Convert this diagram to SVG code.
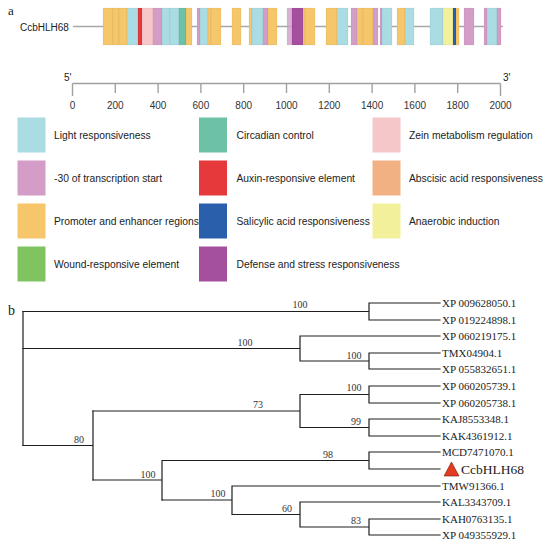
<svg xmlns="http://www.w3.org/2000/svg" width="550" height="549" viewBox="0 0 550 549">
<style>
.lb{fill:#a9dce3}.pk{fill:#d49dc8}.or{fill:#f6c66b}.gr{fill:#80c462}.tl{fill:#6cc1a7}.rd{fill:#e5393b}.bl{fill:#2a5fab}.pu{fill:#a54f9f}.zn{fill:#f6c7c9}.ab{fill:#f2b183}.yl{fill:#f2f09b}
.seg rect{stroke:#000;stroke-opacity:0.08;stroke-width:0.6}
.sans{font-family:"Liberation Sans",Arial,sans-serif;fill:#222}
.leg{font-family:"Liberation Sans",Arial,sans-serif;font-size:10.3px;fill:#222}
.ser{font-family:"Liberation Serif","Times New Roman",serif;fill:#222}
.bs{font-family:"Liberation Serif","Times New Roman",serif;font-size:10px;fill:#333;text-anchor:middle}
.leaf{font-family:"Liberation Serif","Times New Roman",serif;font-size:11px;fill:#222}
.br{stroke:#1e1e1e;stroke-width:1.2;fill:none;stroke-linecap:square}
.tick{stroke:#a0a0a0;stroke-width:1.4}
.tl10{font-family:"Liberation Sans",Arial,sans-serif;font-size:10px;fill:#333;text-anchor:middle}
</style>

<!-- Panel a -->
<text class="ser" x="8" y="15" font-size="13">a</text>
<g id="gene-CcbHLH68">
  <text class="sans" x="20" y="31" font-size="10">CcbHLH68</text>
  <line x1="73" y1="26.5" x2="503" y2="26.5" stroke="#a8a8a8" stroke-width="1.3"/>
  <g class="seg">
    <rect class="or" x="103" y="8" width="10" height="37"/>
    <rect class="or" x="113" y="8" width="6" height="37"/>
    <rect class="or" x="119" y="8" width="8" height="37"/>
    <rect class="lb" x="127" y="8" width="11" height="37"/>
    <rect class="rd" x="138" y="8" width="4" height="37"/>
    <rect class="zn" x="142" y="8" width="11" height="37"/>
    <rect class="pk" x="153" y="8" width="9" height="37"/>
    <rect class="lb" x="162" y="8" width="8" height="37"/>
    <rect class="lb" x="170" y="8" width="9" height="37"/>
    <rect class="tl" x="179" y="8" width="7" height="37"/>
    <rect class="or" x="186" y="8" width="6" height="37"/>
    <rect class="pk" x="197" y="8" width="3" height="37"/>
    <rect class="lb" x="200" y="8" width="8" height="37"/>
    <rect class="or" x="208" y="8" width="3" height="37"/>
    <rect class="or" x="211" y="8" width="10" height="37"/>
    <rect class="or" x="232" y="8" width="9" height="37"/>
    <rect class="or" x="249" y="8" width="3" height="37"/>
    <rect class="lb" x="252" y="8" width="11" height="37"/>
    <rect class="pk" x="263" y="8" width="5" height="37"/>
    <rect class="or" x="268" y="8" width="9" height="37"/>
    <rect class="pk" x="287" y="8" width="5" height="37" opacity="0.8"/>
    <rect class="pu" x="292" y="8" width="11" height="37"/>
    <rect class="or" x="303" y="8" width="2" height="37"/>
    <rect class="or" x="305" y="8" width="10" height="37"/>
    <rect class="or" x="326" y="8" width="11" height="37"/>
    <rect class="lb" x="337" y="8" width="11" height="37"/>
    <rect class="pk" x="351" y="8" width="6" height="37"/>
    <rect class="or" x="357" y="8" width="6" height="37"/>
    <rect class="or" x="363" y="8" width="10" height="37"/>
    <rect class="pk" x="373" y="8" width="5" height="37"/>
    <rect class="pk" x="380" y="8" width="2" height="37"/>
    <rect class="lb" x="382" y="8" width="10" height="37"/>
    <rect class="or" x="397" y="8" width="8" height="37"/>
    <rect class="lb" x="405" y="8" width="9" height="37"/>
    <rect class="lb" x="430" y="8" width="13" height="37"/>
    <rect class="yl" x="443" y="8" width="10" height="37"/>
    <rect class="bl" x="453" y="8" width="3" height="37"/>
    <rect class="or" x="456" y="8" width="3" height="37"/>
    <rect class="pk" x="464" y="8" width="10" height="37"/>
    <rect class="pk" x="484" y="8" width="3" height="37"/>
    <rect class="lb" x="487" y="8" width="10" height="37"/>
    <rect class="pk" x="497" y="8" width="4" height="37"/>
  </g>
</g>

<g id="scale-axis">
  <text class="sans" x="64" y="81" font-size="10">5'</text>
  <text class="sans" x="503" y="81" font-size="10">3'</text>
  <line x1="72.5" y1="83.5" x2="500.5" y2="83.5" stroke="#a0a0a0" stroke-width="1.5"/>
  <line class="tick" x1="72.5" y1="83.5" x2="72.5" y2="96"/>
  <line class="tick" x1="115.3" y1="83.5" x2="115.3" y2="93"/>
  <line class="tick" x1="158.1" y1="83.5" x2="158.1" y2="93"/>
  <line class="tick" x1="200.9" y1="83.5" x2="200.9" y2="93"/>
  <line class="tick" x1="243.7" y1="83.5" x2="243.7" y2="93"/>
  <line class="tick" x1="286.5" y1="83.5" x2="286.5" y2="93"/>
  <line class="tick" x1="329.3" y1="83.5" x2="329.3" y2="93"/>
  <line class="tick" x1="372.1" y1="83.5" x2="372.1" y2="93"/>
  <line class="tick" x1="414.9" y1="83.5" x2="414.9" y2="93"/>
  <line class="tick" x1="457.7" y1="83.5" x2="457.7" y2="93"/>
  <line class="tick" x1="500.5" y1="83.5" x2="500.5" y2="96"/>
  <text class="tl10" x="72.5" y="109">0</text>
  <text class="tl10" x="115.3" y="109">200</text>
  <text class="tl10" x="158.1" y="109">400</text>
  <text class="tl10" x="200.9" y="109">600</text>
  <text class="tl10" x="243.7" y="109">800</text>
  <text class="tl10" x="286.5" y="109">1000</text>
  <text class="tl10" x="329.3" y="109">1200</text>
  <text class="tl10" x="372.1" y="109">1400</text>
  <text class="tl10" x="414.9" y="109">1600</text>
  <text class="tl10" x="457.7" y="109">1800</text>
  <text class="tl10" x="500.5" y="109">2000</text>
</g>

<g id="legend">
  <g id="leg-light"><rect class="lb" x="17.5" y="117.5" width="28" height="35"/><text class="leg" x="54" y="138.5">Light responsiveness</text></g>
  <g id="leg-circadian"><rect class="tl" x="199" y="117.5" width="28" height="35"/><text class="leg" x="236.5" y="138.5">Circadian control</text></g>
  <g id="leg-zein"><rect class="zn" x="372.5" y="117.5" width="28" height="35"/><text class="leg" x="409" y="138.5">Zein metabolism regulation</text></g>
  <g id="leg-30"><rect class="pk" x="17.5" y="160.5" width="28" height="35"/><text class="leg" x="54" y="181.5">-30 of transcription start</text></g>
  <g id="leg-auxin"><rect class="rd" x="199" y="160.5" width="28" height="35"/><text class="leg" x="236.5" y="181.5">Auxin-responsive element</text></g>
  <g id="leg-abscisic"><rect class="ab" x="372.5" y="160.5" width="28" height="35"/><text class="leg" x="409" y="181.5">Abscisic acid responsiveness</text></g>
  <g id="leg-promoter"><rect class="or" x="17.5" y="203.5" width="28" height="35"/><text class="leg" x="54" y="224.5">Promoter and enhancer regions</text></g>
  <g id="leg-salicylic"><rect class="bl" x="199" y="203.5" width="28" height="35"/><text class="leg" x="236.5" y="224.5">Salicylic acid responsiveness</text></g>
  <g id="leg-anaerobic"><rect class="yl" x="372.5" y="203.5" width="28" height="35"/><text class="leg" x="409" y="224.5">Anaerobic induction</text></g>
  <g id="leg-wound"><rect class="gr" x="17.5" y="246.5" width="28" height="35"/><text class="leg" x="54" y="267.5">Wound-responsive element</text></g>
  <g id="leg-defense"><rect class="pu" x="199" y="246.5" width="28" height="35"/><text class="leg" x="236.5" y="267.5">Defense and stress responsiveness</text></g>
</g>

<!-- Panel b -->
<text class="ser" x="8" y="315" font-size="14">b</text>
<g id="connectors">
  <path class="br" d="M23 311.5V445.5"/>
  <path class="br" d="M23 311.5H369M369 303V320M369 303H440M369 320H440"/>
  <path class="br" d="M23 348.5H300M300 336V361M300 336H440M300 361H369M369 353V369M369 353H440M369 369H440"/>
  <path class="br" d="M23 445.5H93M93 411V480"/>
  <path class="br" d="M93 411H300M300 394.5V427.5M300 394.5H369M369 386V403M369 386H440M369 403H440M300 427.5H369M369 419V436M369 419H440M369 436H440"/>
  <path class="br" d="M93 480H162M162 460.5V500M162 460.5H369M369 452V469M369 452H440M369 469H440"/>
  <path class="br" d="M162 500H232M232 486V514.5M232 486H440M232 514.5H300M300 502V527M300 502H440M300 527H369M369 519V535M369 519H440M369 535H440"/>
</g>
<g id="bootstrap">
  <text class="bs" x="300" y="308">100</text>
  <text class="bs" x="245" y="346">100</text>
  <text class="bs" x="354" y="359">100</text>
  <text class="bs" x="354" y="391">100</text>
  <text class="bs" x="258" y="408">73</text>
  <text class="bs" x="356" y="425">99</text>
  <text class="bs" x="79" y="443">80</text>
  <text class="bs" x="328" y="458">98</text>
  <text class="bs" x="148" y="478">100</text>
  <text class="bs" x="218" y="497">100</text>
  <text class="bs" x="287" y="512">60</text>
  <text class="bs" x="356" y="524">83</text>
</g>
<g id="leaf-1"><text class="leaf" x="442" y="306.8">XP 009628050.1</text></g>
<g id="leaf-2"><text class="leaf" x="442" y="323.8">XP 019224898.1</text></g>
<g id="leaf-3"><text class="leaf" x="442" y="339.8">XP 060219175.1</text></g>
<g id="leaf-4"><text class="leaf" x="442" y="356.8">TMX04904.1</text></g>
<g id="leaf-5"><text class="leaf" x="442" y="372.8">XP 055832651.1</text></g>
<g id="leaf-6"><text class="leaf" x="442" y="389.8">XP 060205739.1</text></g>
<g id="leaf-7"><text class="leaf" x="442" y="406.8">XP 060205738.1</text></g>
<g id="leaf-8"><text class="leaf" x="442" y="422.8">KAJ8553348.1</text></g>
<g id="leaf-9"><text class="leaf" x="442" y="439.8">KAK4361912.1</text></g>
<g id="leaf-10"><text class="leaf" x="442" y="455.8">MCD7471070.1</text></g>
<g id="leaf-11">
  <polygon points="451.5,462 444,476 459,476" fill="#e23b1f" stroke="#7a1a0a" stroke-width="0.6"/>
  <text class="ser" x="461" y="474" font-size="13.5">CcbHLH68</text>
</g>
<g id="leaf-12"><text class="leaf" x="442" y="489.8">TMW91366.1</text></g>
<g id="leaf-13"><text class="leaf" x="442" y="505.8">KAL3343709.1</text></g>
<g id="leaf-14"><text class="leaf" x="442" y="522.8">KAH0763135.1</text></g>
<g id="leaf-15"><text class="leaf" x="442" y="538.8">XP 049355929.1</text></g>
</svg>
